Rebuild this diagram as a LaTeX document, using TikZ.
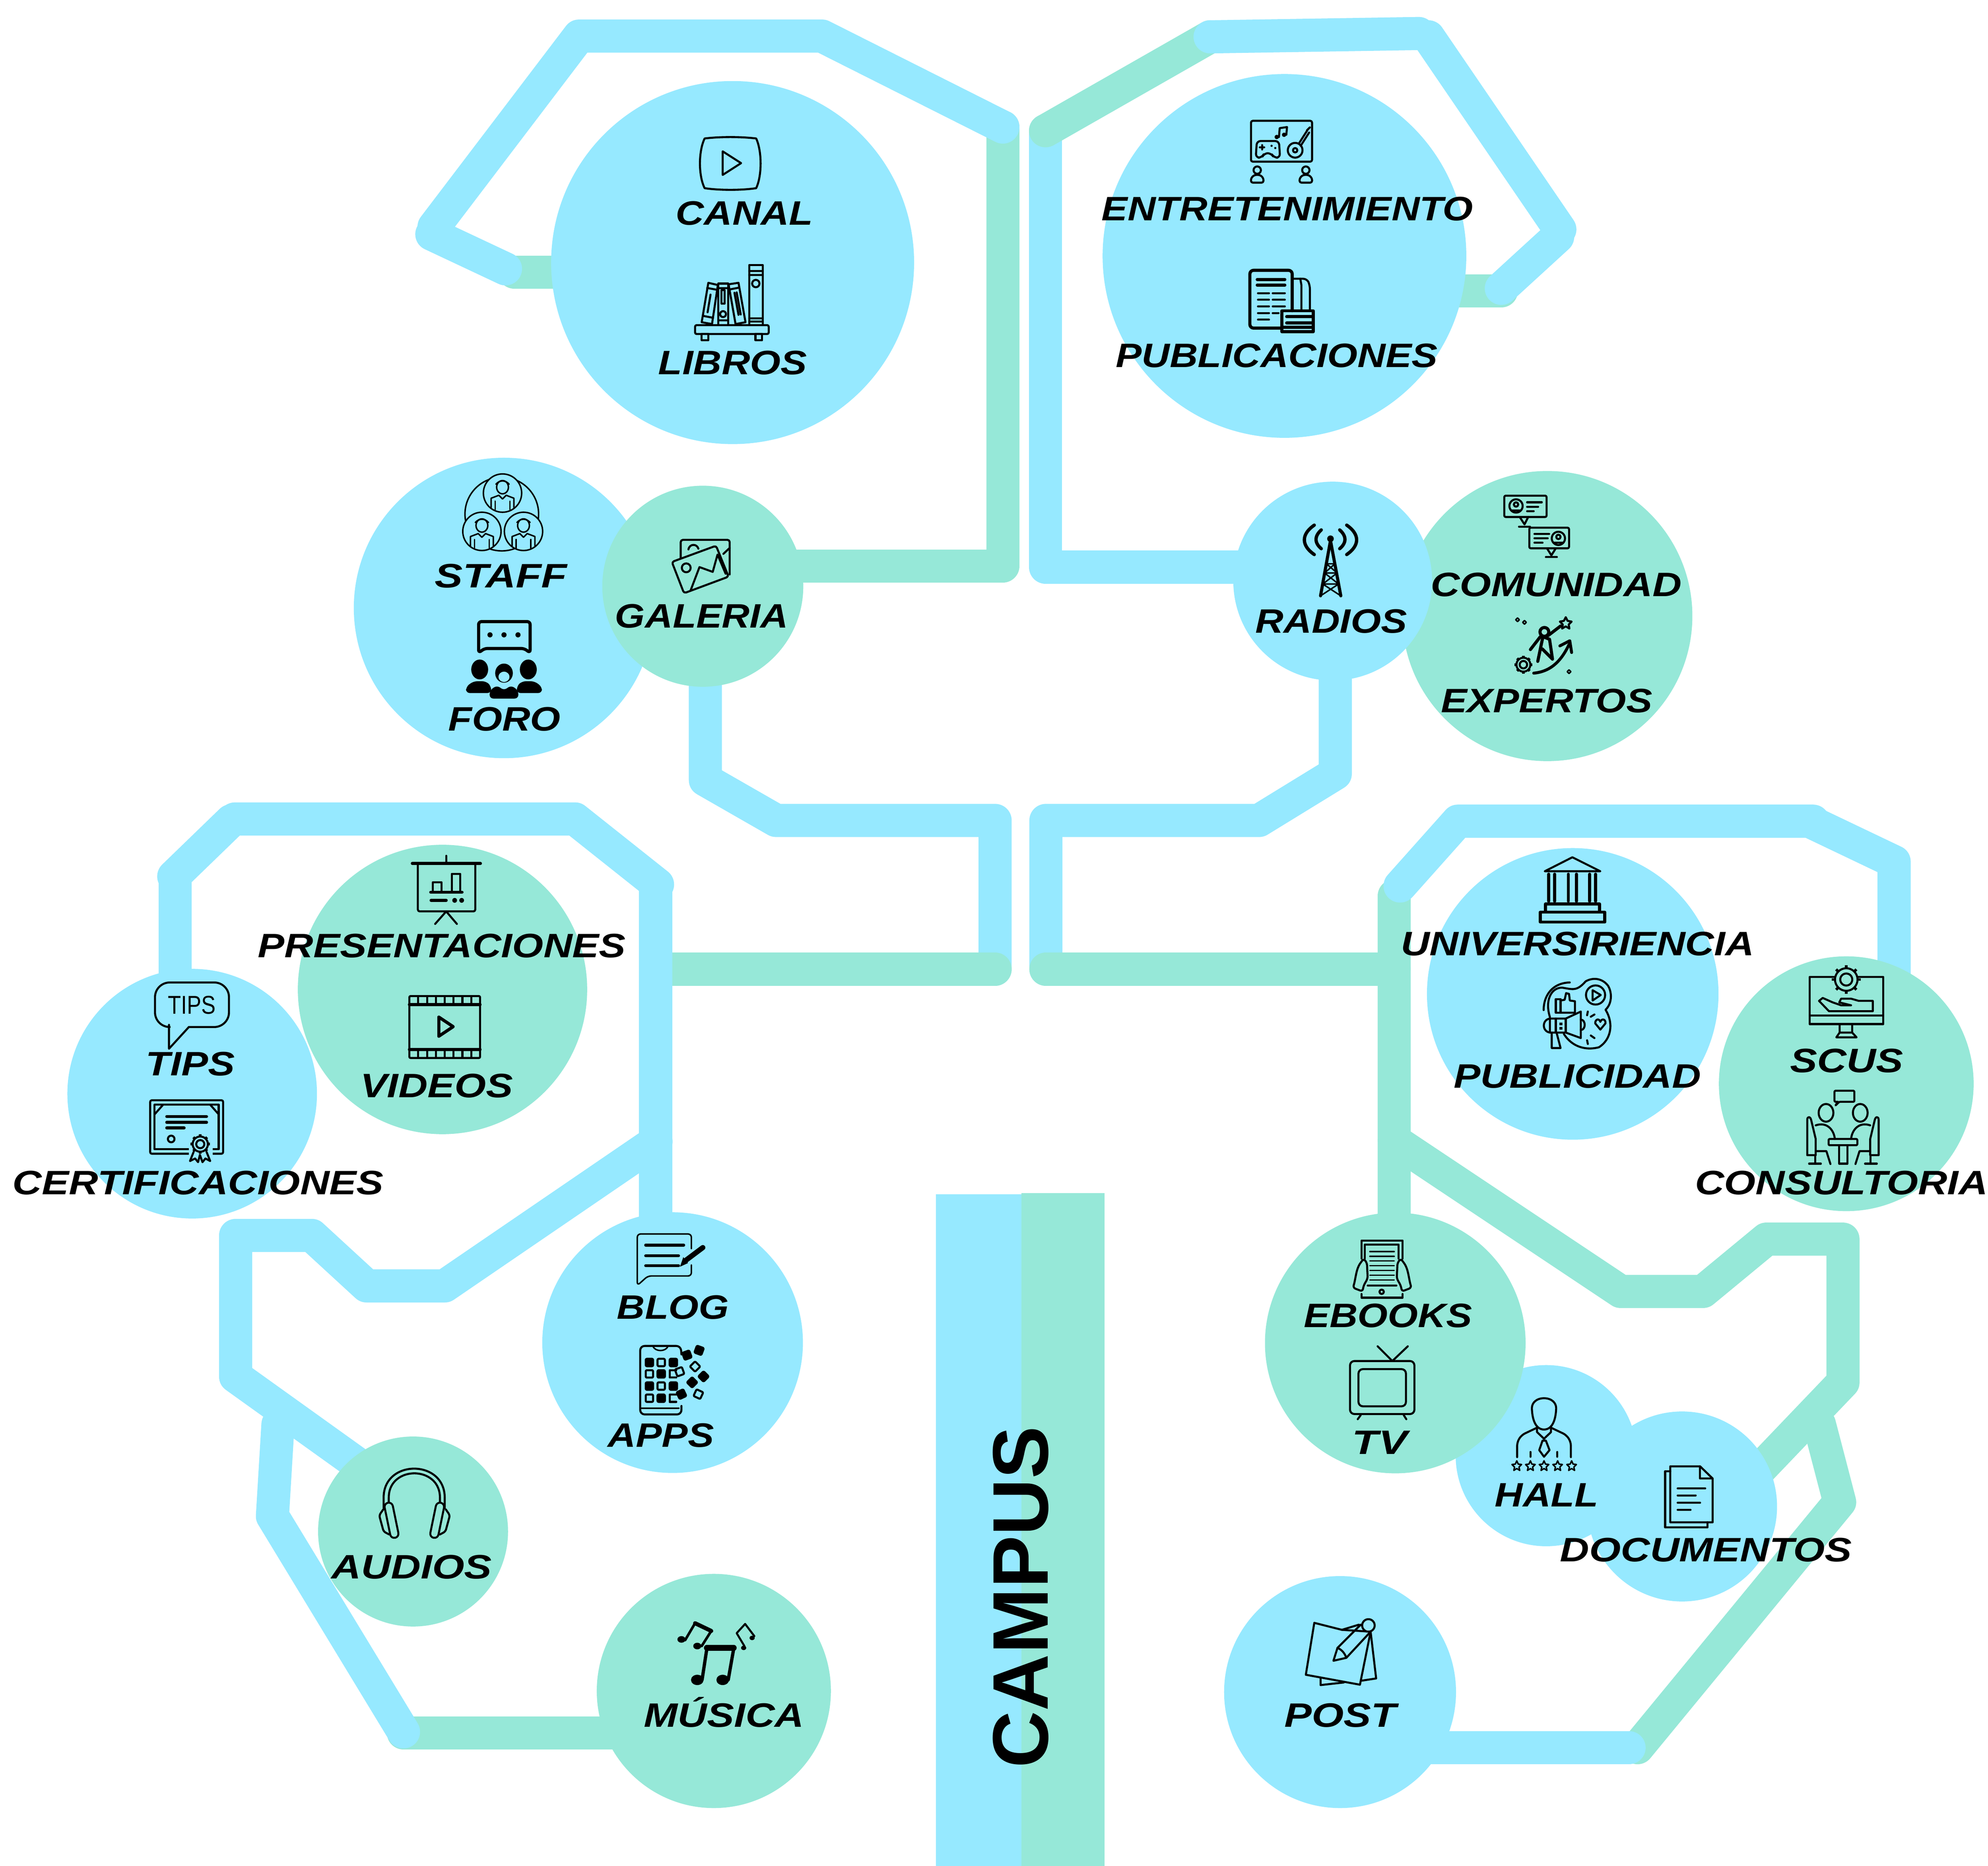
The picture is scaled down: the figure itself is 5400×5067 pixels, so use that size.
\documentclass[tikz,border=0pt]{standalone}
\usepackage{fontspec}
\usepackage{graphicx}
\setmainfont{Liberation Sans}
\newfontfamily\labfont{Liberation Sans}
\definecolor{cb}{RGB}{150,233,255}
\definecolor{cg}{RGB}{150,232,216}
\pgfdeclarelayer{conn}
\pgfsetlayers{conn,main}
\tikzset{
  x=0.1pt,y=-0.1pt,
  bdisc/.style={circle,fill=cb,inner sep=0pt,minimum size=#1*0.2pt},
  gdisc/.style={circle,fill=cg,inner sep=0pt,minimum size=#1*0.2pt},
  bpipe/.style={draw=cb,line width=9pt,line cap=round,line join=round},
  gpipe/.style={draw=cg,line width=9pt,line cap=round,line join=round},
  lab/.style={anchor=base,inner sep=0pt,text=black,font={\labfont\bfseries\itshape\fontsize{9.2}{11}\selectfont}},
  ico/.style={draw=black,line width=.55pt,line cap=round,line join=round},
  icothin/.style={draw=black,line width=.4pt,line cap=round,line join=round},
  icothick/.style={draw=black,line width=.85pt,line cap=round,line join=round},
}
\newcommand{\myGear}[4]{% x y R fill
  \foreach \a in {0,45,...,315}{\draw[draw=black,line width=.75pt] ($(#1,#2)+(\a:#3*0.85)$) -- ($(#1,#2)+(\a:#3*1.15)$);}
  \draw[ico,fill=#4] (#1,#2) circle (#3*0.9);
  \draw[ico] (#1,#2) circle (#3*0.48);
}
\newcommand{\myPerson}[3]{% cx cy fill
  \draw[icothin,fill=#3] (#1,#2) circle (52);
  \draw[icothin] (#1,#2-16) ellipse (16 and 18);
  \draw[icothin] (#1-18,#2-24) .. controls (#1-8,#2-36) and (#1+8,#2-36) .. (#1+18,#2-24);
  \draw[icothin] (#1-31,#2+40) -- (#1-31,#2+14) -- (#1-10,#2+6) -- (#1,#2+16) -- (#1+10,#2+6) -- (#1+31,#2+14) -- (#1+31,#2+40);
  \draw[icothin] (#1-20,#2+22) -- (#1-20,#2+45) (#1+20,#2+22) -- (#1+20,#2+45);
}
\newcommand{\myStar}[2]{%
  \draw[icothin] (#1,#2-14) -- (#1+4,#2-5) -- (#1+13,#2-4) -- (#1+6,#2+3) -- (#1+8,#2+12) -- (#1,#2+7) -- (#1-8,#2+12) -- (#1-6,#2+3) -- (#1-13,#2-4) -- (#1-4,#2-5) -- cycle;
}
\newcommand{\flySq}[4]{%
  \draw[ico,fill=#4,shift={(#1,#2)},rotate=#3,rounded corners=.3pt] (-10,-10) rectangle (10,10);
}
\usetikzlibrary{calc}
\begin{document}
\begin{tikzpicture}
\useasboundingbox (0,0) rectangle (5400,5067);
\begin{pgfonlayer}{conn}
  \fill[white] (0,0) rectangle (5400,5067);
\end{pgfonlayer}

% ---- discs
\node[bdisc=493] (canal) at (1990,713) {};
\node[bdisc=494] (entre) at (3489,695) {};
\node[bdisc=408] (staff) at (1369,1651) {};
\node[gdisc=273] (galeria) at (1909,1592) {};
\node[gdisc=394] (comunidad) at (4203,1673) {};
\node[bdisc=270] (radios) at (3620,1578) {};
\node[gdisc=393] (present) at (1202,2687) {};
\node[bdisc=339] (tips) at (522,2970) {};
\node[bdisc=396] (univ) at (4272,2699) {};
\node[gdisc=346] (scus) at (5015,2943) {};
\node[bdisc=354] (blog) at (1827,3646) {};
\node[gdisc=258] (audios) at (1122,4159) {};
\node[gdisc=318] (musica) at (1939,4592) {};
\node[bdisc=246] (hall) at (4200,3953) {};
\node[gdisc=354] (ebooks) at (3790,3647) {};
\node[bdisc=258] (docs) at (4569,4091) {};
\node[bdisc=315] (post) at (3640,4595) {};

% ---- way points
\coordinate (la) at (1397,739);
\coordinate (lb) at (1173,636);
\coordinate (lc) at (1373,730);
\coordinate (ld) at (1179,616);
\coordinate (le) at (1573,98);
\coordinate (lf) at (2233,98);
\coordinate (lg) at (2724,345);
\coordinate (lh) at (2724,1537);
\coordinate (ra) at (2840,355);
\coordinate (rb) at (2840,1540);
\coordinate (rc) at (3287,100);
\coordinate (rd) at (3854,91);
\coordinate (re) at (3880,100);
\coordinate (rf) at (4237,623);
\coordinate (rg) at (4231,643);
\coordinate (rh) at (4078,783);
\coordinate (ri) at (4078,790);
\coordinate (ma) at (1916,2118);
\coordinate (mb) at (2108,2228);
\coordinate (mc) at (2703,2228);
\coordinate (md) at (2703,2632);
\coordinate (me) at (1781,2632);
\coordinate (mf) at (1786,2402);
\coordinate (mg) at (1562,2224);
\coordinate (mh) at (638,2224);
\coordinate (mi) at (628,2229);
\coordinate (mj) at (472,2380);
\coordinate (mk) at (476,2380);
\coordinate (ml) at (1781,2422);
\coordinate (mm) at (1782,3100);
\coordinate (mn) at (1208,3492);
\coordinate (mo) at (996,3492);
\coordinate (mp) at (847,3355);
\coordinate (mq) at (640,3355);
\coordinate (mr) at (640,3738);
\coordinate (ms) at (1000,3996);
\coordinate (mt) at (755,3868);
\coordinate (mu) at (740,4117);
\coordinate (mv) at (1096,4703);
\coordinate (mw) at (1096,4706);
\coordinate (na) at (3627,2101);
\coordinate (nb) at (3420,2228);
\coordinate (nc) at (2841,2228);
\coordinate (nd) at (2841,2632);
\coordinate (ne) at (3787,2632);
\coordinate (nf) at (3787,2433);
\coordinate (ng) at (3803,2406);
\coordinate (nh) at (3960,2230);
\coordinate (ni) at (4925,2230);
\coordinate (nj) at (4927,2236);
\coordinate (nk) at (5145,2340);
\coordinate (nl) at (3787,3097);
\coordinate (nm) at (4402,3507);
\coordinate (nn) at (4626,3507);
\coordinate (no) at (4798,3365);
\coordinate (np) at (5006,3365);
\coordinate (nq) at (5006,3754);
\coordinate (nr) at (4700,4074);
\coordinate (ns) at (4942,3868);
\coordinate (nt) at (4997,4079);
\coordinate (nu) at (4448,4746);
\coordinate (nv) at (4425,4746);

% ---- connectors (behind the discs)
\begin{pgfonlayer}{conn}
  \draw[gpipe] (la) -- (la -| canal.center);
  \draw[gpipe] (lg) -- (lh) -- (lh -| galeria.center);
  \draw[bpipe] (ld) -- (le) -- (lf) -- (lg);
  \draw[bpipe] (lb) -- (lc);
  \draw[bpipe] (ra) -- (rb) -- (rb -| radios.center);
  \draw[gpipe] (ra) -- (rc);
  \draw[bpipe] (rc) -- (rd);
  \draw[bpipe] (re) -- (rf);
  \draw[gpipe] (ri) -- (ri -| entre.center);
  \draw[bpipe] (rg) -- (rh);
  \draw[bpipe] (ma |- galeria.center) -- (ma) -- (mb) -- (mc) -- (md);
  \draw[gpipe] (me) -- (md);
  \draw[bpipe] (mf) -- (mg) -- (mh);
  \draw[bpipe] (mi) -- (mj);
  \draw[bpipe] (mk) -- (mk |- tips.center);
  \draw[bpipe] (ml) -- (ml |- blog.center);
  \draw[bpipe] (mm) -- (mn) -- (mo) -- (mp) -- (mq) -- (mr) -- (ms);
  \draw[gpipe] (mw) -- (mw -| musica.center);
  \draw[bpipe] (mt) -- (mu) -- (mv);
  \draw[bpipe] (na |- radios.center) -- (na) -- (nb) -- (nc) -- (nd);
  \draw[gpipe] (nd) -- (ne);
  \draw[gpipe] (nf) -- (nf |- ebooks.center);
  \draw[bpipe] (ng) -- (nh) -- (ni);
  \draw[bpipe] (nj) -- (nk) -- (nk |- scus.center);
  \draw[gpipe] (nl) -- (nm) -- (nn) -- (no) -- (np) -- (nq) -- (nr);
  \draw[gpipe] (ns) -- (nt) -- (nu);
  \draw[bpipe] (nv) -- (nv -| post.center);
\end{pgfonlayer}

% ---- central bar
\fill[cb] (2542,3243) rectangle (2774,5067);
\fill[cg] (2774,3240) rectangle (3000,5067);
\node[rotate=90,inner sep=0pt,font={\labfont\bfseries\fontsize{21.4}{24}\selectfont}] (campus) at (2773,4337) {CAMPUS};

% ---- labels
\node[lab] (tcanal) at (2022,611) {\resizebox{37.3pt}{\height}{CANAL}};
\node[lab] (tlibros) at (1990,1017) {\resizebox{40.4pt}{\height}{LIBROS}};
\node[lab] (tstaff) at (1361,1596) {\resizebox{35.9pt}{\height}{STAFF}};
\node[lab] (tforo) at (1370,1984) {\resizebox{30.5pt}{\height}{FORO}};
\node[lab] (tgaleria) at (1906,1705) {\resizebox{47.1pt}{\height}{GALERIA}};
\node[lab] (tentre) at (3497,599) {\resizebox{100.9pt}{\height}{ENTRETENIMIENTO}};
\node[lab] (tpub) at (3468,997) {\resizebox{87.4pt}{\height}{PUBLICACIONES}};
\node[lab] (tradios) at (3616,1719) {\resizebox{41.2pt}{\height}{RADIOS}};
\node[lab] (tcomunidad) at (4227,1619) {\resizebox{68.2pt}{\height}{COMUNIDAD}};
\node[lab] (texpertos) at (4201,1935) {\resizebox{57.4pt}{\height}{EXPERTOS}};
\node[lab] (tpresent) at (1200,2600) {\resizebox{99.9pt}{\height}{PRESENTACIONES}};
\node[lab] (tvideos) at (1186,2980) {\resizebox{41.5pt}{\height}{VIDEOS}};
\node[lab] (ttips) at (517,2921) {\resizebox{24.2pt}{\height}{TIPS}};
\node[lab] (tcert) at (538,3244) {\resizebox{100.8pt}{\height}{CERTIFICACIONES}};
\node[lab] (tuniv) at (4285,2595) {\resizebox{96pt}{\height}{UNIVERSIRIENCIA}};
\node[lab] (tpublicidad) at (4285,2954) {\resizebox{67.2pt}{\height}{PUBLICIDAD}};
\node[lab] (tscus) at (5016,2912) {\resizebox{30.7pt}{\height}{SCUS}};
\node[lab] (tconsult) at (5002,3244) {\resizebox{79.5pt}{\height}{CONSULTORIA}};
\node[lab] (tblog) at (1828,3582) {\resizebox{30.4pt}{\height}{BLOG}};
\node[lab] (tapps) at (1795,3930) {\resizebox{28.9pt}{\height}{APPS}};
\node[lab] (taudios) at (1118,4287) {\resizebox{43.6pt}{\height}{AUDIOS}};
\node[lab] (tmusica) at (1967,4690) {\resizebox{43.5pt}{\height}{MÚSICA}};
\node[lab] (tebooks) at (3770,3605) {\resizebox{45.7pt}{\height}{EBOOKS}};
\node[lab] (ttv) at (3748,3949) {\resizebox{15pt}{\height}{TV}};
\node[lab] (thall) at (4201,4092) {\resizebox{28.1pt}{\height}{HALL}};
\node[lab] (tdocs) at (4634,4241) {\resizebox{79.3pt}{\height}{DOCUMENTOS}};
\node[lab] (tpost) at (3641,4690) {\resizebox{30.4pt}{\height}{POST}};

% ---- icons
% canal
\begin{scope}[shift={(1894,371)}]
  \draw[ico] (20,5) .. controls (60,0) and (120,0) .. (160,5) .. controls (176,40) and (176,106) .. (160,140) .. controls (120,146) and (60,146) .. (20,140) .. controls (3,106) and (3,40) .. (20,5) -- cycle;
  \draw[ico] (69,40) -- (119,72) -- (69,104) -- cycle;
\end{scope}
% libros
\begin{scope}[shift={(1888,720)}]
  \draw[ico,rounded corners=.4pt] (0,163) rectangle (200,187);
  \draw[ico] (18,187) rectangle (36,204) (164,187) rectangle (182,204);
  \draw[ico] (147,0) rectangle (184,163);
  \draw[ico] (147,16) -- (184,16) (147,27) -- (184,27) (147,145) -- (184,145) (147,153) -- (184,153);
  \draw[ico] (165,50) circle (10);
  \draw[ico] (36,48) -- (62,54) -- (46,160) -- (18,155) -- cycle;
  \draw[ico] (33,62) -- (60,67) (23,138) -- (49,143) (42,80) -- (34,128);
  \draw[ico] (63,50) rectangle (90,163);
  \draw[ico] (63,62) -- (90,62) (63,150) -- (90,150) (72,68) rectangle (80,105);
  \draw[ico] (76,133) circle (8);
  \draw[ico] (91,52) -- (118,48) -- (137,155) -- (110,160) -- cycle;
  \draw[ico] (94,66) -- (120,61) (107,75) -- (118,135) (113,74) -- (124,134);
\end{scope}
% staff
\begin{scope}[shift={(1258,1288)}]
  \draw[icothin] (105,108) circle (100);
  \myPerson{107}{51}{cb}
  \myPerson{51}{155}{cb}
  \myPerson{164}{155}{cb}
\end{scope}
% foro
\begin{scope}[shift={(1264,1685)}]
  \draw[draw=black,line width=.85pt,line cap=round,line join=round,rounded corners=.8pt] (36,3) -- (176,3) -- (176,88) -- (160,76) -- (52,76) -- (36,88) -- cycle;
  \fill (67,39) circle (7) (105,39) circle (7) (143,39) circle (7);
  \fill (39,133) ellipse (23 and 27);
  \fill (171,133) ellipse (23 and 27);
  \fill[rounded corners=1pt] (2,197) -- (2,180) -- (22,165) -- (56,165) -- (70,178) -- (70,197) -- cycle;
  \fill[rounded corners=1pt] (140,197) -- (140,178) -- (154,165) -- (188,165) -- (208,180) -- (208,197) -- cycle;
  \draw[fill=cb,draw=cb,line width=.5pt] (105,146) ellipse (29 and 28);
  \fill (105,143) ellipse (24 and 26);
  \fill[cb] (105,153) ellipse (15 and 14);
  \fill[rounded corners=1pt] (66,212) -- (66,190) -- (86,176) -- (105,190) -- (124,176) -- (144,190) -- (144,212) -- cycle;
\end{scope}
% galeria
\begin{scope}[shift={(1825,1466)}]
  \draw[ico,rounded corners=.6pt] (24,60) -- (24,0) -- (157,0) -- (157,94);
  \draw[ico,fill=cg,rounded corners=.6pt] (0,60) -- (120,16) -- (154,100) -- (33,145) -- cycle;
  \draw[ico] (39,76) circle (12);
  \draw[ico] (51,137) -- (75,74) -- (111,87) -- (124,40) -- (146,92);
  \draw[ico] (45,26) .. controls (48,10) and (68,10) .. (72,24);
  \draw[ico] (140,38) -- (157,22);
\end{scope}
% entretenimiento
\begin{scope}[shift={(3398,328)}]
  \draw[ico,rounded corners=.5pt] (0,0) rectangle (166,111);
  \draw[ico] (17,134) circle (10) (149,134) circle (10);
  \draw[ico,rounded corners=.5pt] (0,168) -- (0,156) -- (9,147) -- (25,147) -- (34,156) -- (34,168) -- cycle;
  \draw[ico,rounded corners=.5pt] (132,168) -- (132,156) -- (141,147) -- (157,147) -- (166,156) -- (166,168) -- cycle;
  \draw[ico,rounded corners=1pt] (13,100) -- (16,55) -- (76,55) -- (79,100) -- (62,100) -- (55,88) -- (36,88) -- (30,100) -- cycle;
  \draw[ico] (24,72) -- (36,72) (30,66) -- (30,78);
  \fill (56,68) circle (3) (66,74) circle (3);
  \draw[ico] (120,80) circle (20);
  \draw[ico] (120,80) circle (6);
  \draw[ico] (130,62) -- (153,26) (135,68) -- (158,32);
  \draw[ico] (152,26) -- (160,18);
  \draw[ico] (76,44) -- (78,20) -- (98,17) -- (96,38);
  \fill (70,44) circle (6) (90,38) circle (6);
\end{scope}
% publicaciones
\begin{scope}[shift={(3395,734)}]
  \draw[icothick,rounded corners=1pt] (115,110) -- (115,0) -- (0,0) -- (0,157) -- (87,157);
  \draw[ico,rounded corners=1pt] (115,23) -- (155,23) -- (163,40) -- (163,110);
  \draw[ico] (137,23) -- (140,40) -- (140,110);
  \draw[icothick] (20,25) -- (95,25) (20,40) -- (95,40);
  \draw[ico] (22,62) -- (52,62) (62,62) -- (95,62) (22,80) -- (52,80) (62,80) -- (95,80) (22,98) -- (52,98) (62,98) -- (95,98) (22,116) -- (52,116) (62,116) -- (78,116) (22,134) -- (52,134);
  \draw[icothick] (87,110) rectangle (172,167);
  \draw[icothick] (100,126) -- (172,126) (100,143) -- (172,143) (87,155) -- (172,155);
\end{scope}
% radios
\begin{scope}[shift={(3542,1426)}]
  \draw[line width=.9pt,line cap=round] (28,0) .. controls (-8,25) and (-8,55) .. (28,80);
  \draw[line width=.9pt,line cap=round] (47,13) .. controls (28,30) and (28,48) .. (47,64);
  \draw[line width=.9pt,line cap=round] (116,0) .. controls (152,25) and (152,55) .. (116,80);
  \draw[line width=.9pt,line cap=round] (97,13) .. controls (116,30) and (116,48) .. (97,64);
  \fill (72,37) circle (9);
  \draw[icothick] (72,42) -- (45,192) (72,42) -- (100,192);
  \draw[icothin] (61,105) -- (84,105) (56,130) -- (90,130) (51,160) -- (94,160) (61,105) -- (90,130) -- (51,160) -- (100,192) (84,105) -- (56,130) -- (94,160) -- (45,192);
\end{scope}
% comunidad
\begin{scope}[shift={(4086,1346)}]
  \draw[ico,rounded corners=.4pt] (0,0) rectangle (115,58);
  \draw[ico] (42,58) -- (55,78) -- (65,58);
  \draw[ico] (40,84) -- (70,84);
  \draw[ico] (32,28) circle (18);
  \draw[ico] (62,18) -- (102,18) (62,30) -- (92,30) (62,42) -- (80,42);
  \draw[ico] (32,24) circle (6);
  \draw[ico] (20,40) -- (44,40);
  \draw[ico,rounded corners=.4pt] (68,87) rectangle (176,143);
  \draw[ico] (116,143) -- (128,162) -- (140,143);
  \draw[ico] (113,167) -- (143,167);
  \draw[ico] (147,116) circle (18);
  \draw[ico] (147,112) circle (6);
  \draw[ico] (135,128) -- (159,128);
  \draw[ico] (82,104) -- (122,104) (82,116) -- (118,116) (82,128) -- (104,128);
\end{scope}
% expertos
\begin{scope}[shift={(4109,1674)}]
  \myGear{29}{131}{21}{cg}
  \draw[line width=.8pt,line cap=round] (57,154) .. controls (100,150) and (130,125) .. (153,76);
  \draw[line width=.8pt,line cap=round,line join=round] (128,80) -- (155,66) -- (160,98);
  \draw[icothick] (86,42) circle (12);
  \draw[icothick] (96,52) -- (130,26) (75,55) -- (48,90);
  \draw[icothick,line join=round] (82,55) -- (68,122) (100,62) -- (108,116) (80,88) -- (108,116) (82,55) -- (100,62);
  \draw[ico] (144,2) -- (149,12) -- (160,14) -- (152,22) -- (154,33) -- (144,27) -- (134,33) -- (136,22) -- (128,14) -- (139,12) -- cycle;
  \draw[icothin] (13,4) -- (18,9) -- (13,14) -- (8,9) -- cycle (32,11) -- (37,16) -- (32,21) -- (27,16) -- cycle (153,145) -- (158,150) -- (153,155) -- (148,150) -- cycle;
\end{scope}
% presentaciones
\begin{scope}[shift={(1120,2324)}]
  \draw[ico] (92,0) -- (92,21);
  \draw[icothick] (0,21) -- (185,21);
  \draw[ico,rounded corners=.5pt] (15,21) -- (15,151) -- (171,151) -- (171,21);
  \draw[ico] (92,151) -- (62,185) (92,151) -- (121,185);
  \draw[ico] (56,97) -- (56,72) -- (79,72) -- (79,97);
  \draw[ico] (107,97) -- (107,49) -- (130,49) -- (130,97);
  \draw[icothick] (50,99) -- (135,99) (51,121) -- (92,121);
  \fill (115,121) circle (6.5) (134,121) circle (6.5);
\end{scope}
% videos
\begin{scope}[shift={(1112,2705)}]
  \draw[ico,rounded corners=.3pt] (0,0) rectangle (192,168);
  \draw[icothick] (0,23) -- (192,23) (0,145) -- (192,145);
  \foreach \i in {24,48,...,168}{\draw[ico] (\i,2) -- (\i,20) (\i,148) -- (\i,166);}
  \draw[icothick] (80,57) -- (119,83) -- (80,109) -- cycle;
\end{scope}
% tips
\begin{scope}[shift={(421,2668)}]
  \draw[ico,rounded corners=4pt] (38,121) -- (0,121) -- (0,0) -- (201,0) -- (201,121) -- (92,121);
  \draw[ico] (38,115) -- (38,180) -- (92,121);
  \node[inner sep=0pt,font={\fontsize{7}{8}\selectfont}] (tipsword) at (100,61) {\resizebox{13pt}{\height}{TIPS}};
\end{scope}
% certificaciones
\begin{scope}[shift={(408,2988)}]
  \draw[ico,rounded corners=.4pt] (0,0) rectangle (198,145);
  \draw[ico] (12,12) rectangle (186,133);
  \draw[ico] (12,38) -- (35,12) (186,38) -- (163,12);
  \draw[icothick] (45,44) -- (153,44) (45,60) -- (153,60) (45,75) -- (92,75);
  \draw[ico] (57,105) circle (9);
  \fill[cb] (105,92) rectangle (170,150);
  \myGear{136}{119}{23}{cb}
  \draw[ico] (118,140) -- (108,165) -- (122,158) -- (130,168) -- (135,148) -- (142,168) -- (150,158) -- (163,165) -- (153,140);
\end{scope}
% universiriencia
\begin{scope}[shift={(4182,2326)}]
  \draw[ico] (89,2) -- (14,40) -- (165,40) -- cycle;
  \draw[icothick] (25,48) -- (25,121) (41,48) -- (41,121) (78,48) -- (78,121) (100,48) -- (100,121) (136,48) -- (136,121) (152,48) -- (152,121);
  \draw[icothick] (16,149) -- (16,129) -- (163,129) -- (163,149);
  \draw[icothick] (2,151) rectangle (177,178);
\end{scope}
% publicidad
\begin{scope}[shift={(4188,2657)}]
  \draw[ico] (76,11) .. controls (30,12) and (5,45) .. (5,86);
  \draw[ico] (22,105) .. controls (8,60) and (25,25) .. (55,25) .. controls (85,30) and (95,35) .. (119,8) .. controls (140,-4) and (165,0) .. (180,20) .. controls (192,40) and (190,70) .. (173,85) .. controls (195,120) and (190,165) .. (155,187) .. controls (125,195) and (85,190) .. (60,151);
  \draw[ico] (146,45) circle (26);
  \draw[ico] (138,32) -- (160,45) -- (138,60) -- cycle;
  \draw[ico] (38,56) rectangle (51,93);
  \draw[ico] (51,60) -- (62,58) -- (66,40) -- (74,42) -- (76,60) -- (90,62) -- (90,93) -- (51,93);
  \draw[ico] (106,90) -- (106,162) -- (65,147) -- (22,147) -- (22,109) -- (65,109) -- cycle;
  \draw[ico] (22,109) .. controls (0,112) and (0,144) .. (22,147);
  \draw[ico] (65,109) -- (65,147) (38,109) -- (38,147);
  \draw[ico] (106,112) .. controls (120,112) and (120,140) .. (106,140);
  \draw[ico] (27,147) -- (27,189) -- (51,189) -- (40,147);
  \draw[ico] (159,139) -- (145,122) .. controls (145,110) and (156,108) .. (159,118) .. controls (162,108) and (174,110) .. (173,122) -- cycle;
  \draw[ico] (125,90) -- (123,100) (143,98) -- (133,104) (133,155) -- (143,162) (123,168) -- (125,178);
  \fill (48,120) rectangle (56,127) (48,132) rectangle (56,139);
\end{scope}
% scus
\begin{scope}[shift={(4916,2618)}]
  \draw[ico] (0,35) rectangle (199,163);
  \draw[ico] (0,140) -- (199,140);
  \draw[ico] (81,163) -- (81,186) -- (72,199) -- (127,199) -- (115,186) -- (115,163) (81,186) -- (115,186);
  \myGear{99}{42}{34}{cg}
  \draw[ico] (25,100) -- (52,128) -- (171,128) -- (171,100) -- (133,100) -- (112,94) -- (85,94) -- (80,104) -- (112,112) -- (85,112) -- (62,104) -- (35,92) -- cycle;
\end{scope}
% consultoria
\begin{scope}[shift={(4906,2961)}]
  \draw[ico,rounded corners=.3pt] (86,31) -- (77,31) -- (77,1) -- (131,1) -- (131,31) -- (90,31) -- (79,42) -- (86,31);
  \draw[ico] (54,61) ellipse (20 and 24);
  \draw[ico] (147,61) ellipse (20 and 24);
  \draw[ico] (3,176) -- (3,80) .. controls (3,70) and (12,70) .. (14,82) -- (26,132) -- (26,176) -- (3,176);
  \draw[ico] (197,176) -- (197,80) .. controls (197,70) and (188,70) .. (186,82) -- (174,132) -- (174,176) -- (197,176);
  \draw[ico] (26,95) .. controls (55,85) and (75,105) .. (78,132);
  \draw[ico] (174,95) .. controls (145,85) and (125,105) .. (122,132);
  \draw[ico] (26,165) -- (55,165) -- (66,200) (174,165) -- (145,165) -- (134,200);
  \draw[ico,rounded corners=.3pt] (61,132) rectangle (139,149);
  \draw[ico] (90,149) -- (90,199) -- (112,199) -- (112,149);
  \draw[ico] (25,176) -- (25,199) (8,199) -- (40,199) (175,176) -- (175,199) (160,199) -- (192,199);
\end{scope}
% blog
\begin{scope}[shift={(1731,3348)}]
  \draw[icothin,rounded corners=.9pt] (147,43) -- (147,3) -- (0,3) -- (0,143) -- (29,117) -- (147,117) -- (147,87);
  \draw[line width=.85pt,line cap=round] (23,33) -- (126,33) (23,62) -- (112,62) (23,89) -- (112,89);
  \draw[line width=1.4pt,line cap=round] (178,40) -- (130,76);
  \fill (116,92) -- (125,66) -- (138,82) -- cycle;
\end{scope}
% apps
\begin{scope}[shift={(1739,3653)}]
  \draw[ico,rounded corners=1.2pt] (112,165) -- (112,188) -- (0,188) -- (0,2) -- (110,2) -- (112,25);
  \draw[icothin] (0,171) -- (105,171);
  \draw[icothin] (35,4) .. controls (42,18) and (68,18) .. (75,4);
  \foreach \yy in {47,111}{
    \flySq{25}{\yy}{0}{black}
    \flySq{57}{\yy}{0}{none}
    \flySq{90}{\yy}{0}{black}
  }
  \foreach \yy in {78,144}{
    \flySq{25}{\yy}{0}{none}
    \flySq{57}{\yy}{0}{black}
    \draw[ico] (98,\yy-10) -- (80,\yy-10) -- (80,\yy+10) -- (98,\yy+10);
  }
  \flySq{127}{27}{20}{black}
  \flySq{160}{14}{-20}{black}
  \flySq{149}{58}{45}{none}
  \flySq{107}{72}{20}{none}
  \flySq{172}{85}{45}{black}
  \flySq{141}{101}{45}{black}
  \flySq{112}{133}{25}{black}
  \flySq{158}{133}{-25}{none}
\end{scope}
% audios
\begin{scope}[shift={(1027,3987)}]
  \draw[ico] (15,108) -- (15,80) .. controls (15,-25) and (181,-25) .. (181,80) -- (181,108);
  \draw[ico] (29,98) -- (29,80) .. controls (29,-8) and (168,-8) .. (168,80) -- (168,98);
  \draw[ico,rounded corners=.6pt] (14,112) -- (3,128) -- (15,172) -- (30,180);
  \draw[ico,rounded corners=.6pt] (184,112) -- (195,128) -- (183,172) -- (168,180);
  \draw[black,line width=2.8pt,line cap=round] (29,105) -- (44,178) (168,105) -- (153,178);
  \draw[cg,line width=1.7pt,line cap=round] (29,105) -- (44,178) (168,105) -- (153,178);
\end{scope}
% musica
\begin{scope}[shift={(1840,4405)}]
  \draw[line width=1.6pt,line cap=round] (80,70) -- (153,70);
  \draw[line width=.9pt,line cap=round] (80,72) -- (67,157) (153,72) -- (138,157);
  \fill (54,157) ellipse (17 and 14) (123,157) ellipse (17 and 14);
  \draw[line width=1.1pt,line cap=round] (48,3) -- (92,24);
  \draw[line width=.7pt,line cap=round] (48,3) -- (21,49) (92,24) -- (66,65);
  \fill (11,47) ellipse (11 and 9) (54,65) ellipse (11 and 9);
  \draw[ico] (184,5) -- (161,30) -- (182,65) (184,5) -- (209,38);
  \fill (180,70) ellipse (7 and 6) (203,43) ellipse (7 and 6);
\end{scope}
% ebooks
\begin{scope}[shift={(3675,3366)}]
  \draw[ico] (23,52) -- (23,3) -- (135,3) -- (135,52) (32,52) -- (32,14) -- (124,14) -- (124,52);
  \draw[ico] (23,148) -- (23,158) -- (135,158) -- (135,148);
  \draw[ico] (78,142) circle (6);
  \foreach \yy in {33,46,58,71,84,97,110}{\draw[icothin] (46,\yy) -- (112,\yy);}
  \draw[ico] (40,125) -- (118,125);
  \draw[ico,rounded corners=.7pt] (21,63) .. controls (8,80) and (8,105) .. (0,131) -- (26,141) -- (29,125) -- (40,106) -- (38,63) -- (29,52) -- (21,63);
  \draw[ico,rounded corners=.7pt] (138,63) .. controls (151,80) and (151,105) .. (159,131) -- (133,141) -- (130,125) -- (119,106) -- (121,63) -- (130,52) -- (138,63);
\end{scope}
% tv
\begin{scope}[shift={(3667,3654)}]
  \draw[ico] (75,2) -- (115,42) -- (157,2);
  \draw[ico,rounded corners=1.2pt] (0,42) rectangle (175,186);
  \draw[ico,rounded corners=1.2pt] (23,64) rectangle (152,165);
  \draw[ico] (29,189) -- (21,200) (146,189) -- (153,200);
\end{scope}
% hall
\begin{scope}[shift={(4104,3797)}]
  \draw[ico] (90,0) .. controls (70,0) and (57,12) .. (57,27) .. controls (58,60) and (68,85) .. (90,85) .. controls (112,85) and (122,60) .. (123,27) .. controls (123,12) and (110,0) .. (90,0) -- cycle;
  \draw[ico,rounded corners=1pt] (69,81) -- (29,100) -- (17,119) -- (17,160);
  \draw[ico,rounded corners=1pt] (111,81) -- (151,100) -- (163,119) -- (163,160);
  \draw[ico] (71,76) -- (71,92) -- (90,110) -- (109,92) -- (109,76);
  \draw[ico] (86,115) -- (77,141) -- (90,159) -- (105,141) -- (95,115) -- cycle;
  \draw[ico] (53,146) -- (53,159) (126,146) -- (126,159);
  \myStar{16}{184} \myStar{53}{184} \myStar{90}{184} \myStar{127}{184} \myStar{165}{184}
\end{scope}
% documentos
\begin{scope}[shift={(4523,3979)}]
  \draw[ico] (14,3) -- (95,3) -- (129,36) -- (129,155) -- (14,155) -- cycle;
  \draw[ico] (95,3) -- (95,36) -- (129,36);
  \draw[ico] (14,16) -- (0,16) -- (0,169) -- (115,169) -- (115,155);
  \draw[ico] (34,63) -- (109,63) (34,82) -- (83,82) (34,102) -- (95,102) (34,121) -- (69,121);
\end{scope}
% post
\begin{scope}[shift={(3545,4390)}]
  \draw[ico] (42,168) -- (42,186) -- (105,179);
  \draw[ico] (100,36) -- (146,22);
  \draw[ico] (178,41) -- (193,168) -- (154,174);
  \draw[ico] (25,17) -- (100,36) -- (178,41) -- (149,185) -- (2,158) -- cycle;
  \draw[ico] (77,120) -- (88,85) -- (151,22) -- (178,41) -- (112,112) -- cycle;
  \draw[ico] (88,85) .. controls (100,90) and (108,100) .. (112,112);
  \draw[ico,fill=cb] (172,24) circle (17);
\end{scope}
\end{tikzpicture}
\end{document}
